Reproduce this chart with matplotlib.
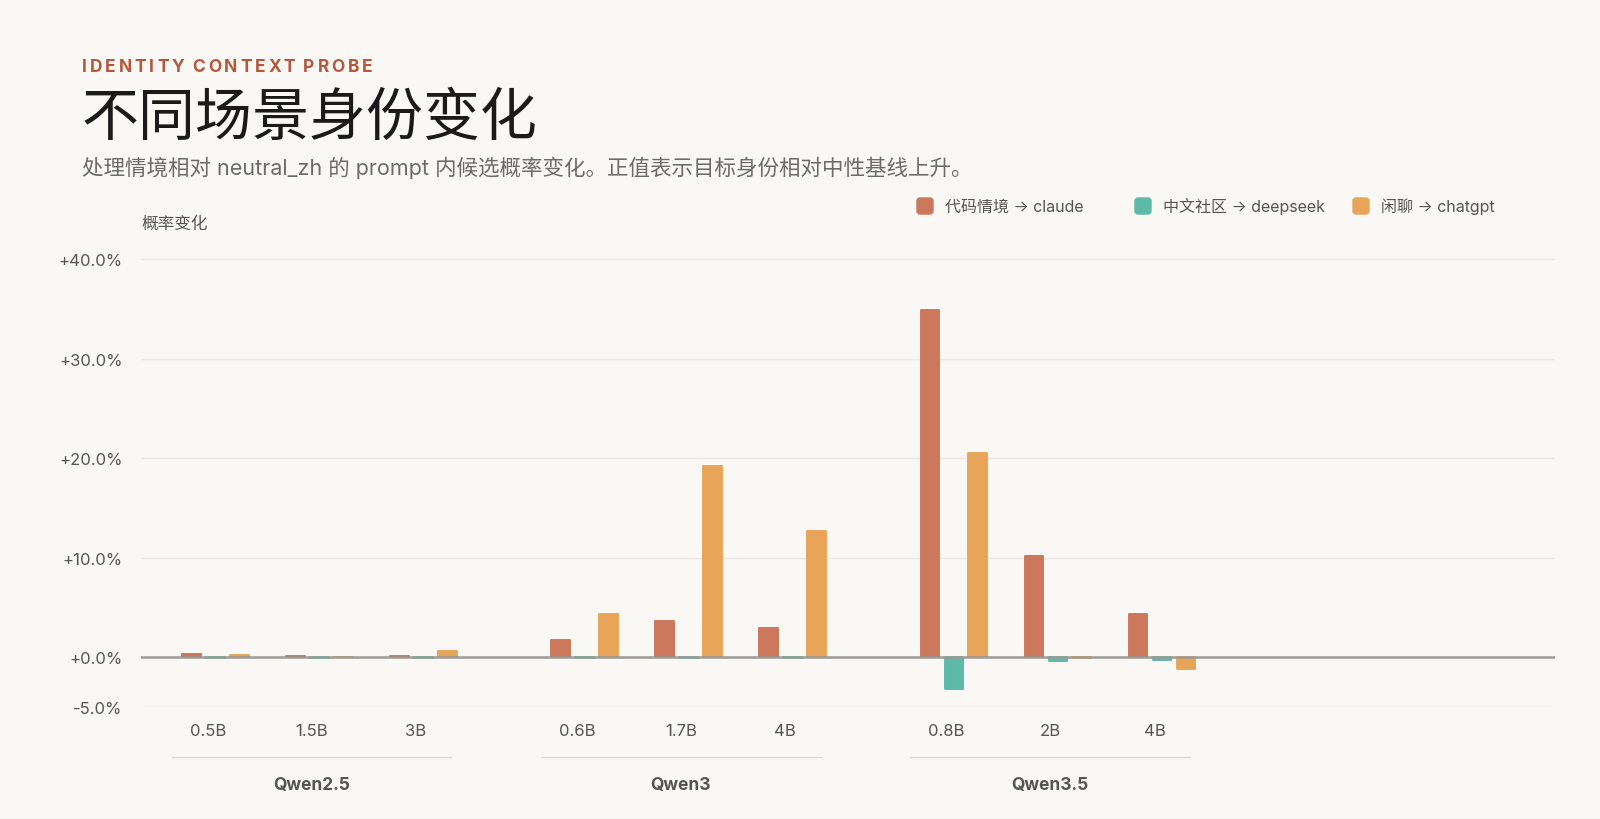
import matplotlib
matplotlib.use("Agg")
import matplotlib.pyplot as plt
from matplotlib.patches import FancyBboxPatch
from matplotlib.transforms import IdentityTransform

# data (percent change vs neutral_zh)
groups = ["Qwen2.5", "Qwen3", "Qwen3.5"]
sizes = [["0.5B", "1.5B", "3B"], ["0.6B", "1.7B", "4B"], ["0.8B", "2B", "4B"]]
series = ["代码情境 → claude", "中文社区 → deepseek", "闲聊 → chatgpt"]
claude = [0.33, 0.08, 0.12, 1.7, 3.6, 2.9, 34.9, 10.2, 4.3]
deepseek = [-0.05, -0.05, -0.05, -0.08, -0.05, -0.05, -3.2, -0.37, -0.27]
chatgpt = [0.23, 0.05, 0.6, 4.3, 19.2, 12.7, 20.5, -0.08, -1.17]
yticks = [-5, 0, 10, 20, 30, 40]

colors = ["#CC785C", "#5DBAA8", "#E8A55A"]
bg = "#FAF8F4"
W, H = 1600, 820

plt.rcParams["font.family"] = ["Inter", "Noto Sans CJK SC", "DejaVu Sans"]

fig = plt.figure(figsize=(16, 8.2), dpi=100, facecolor=bg)
ax = fig.add_axes([0.088, 0.1366, 0.884, 0.5585], facecolor=bg)

group_gap = 3.55
xs = [g * group_gap + i for g in range(len(groups)) for i in range(3)]
offsets = [-0.23, 0.0, 0.23]

for vals, off, c in zip([claude, deepseek, chatgpt], offsets, colors):
    ax.bar([x + off for x in xs], vals, width=0.18, color=c, edgecolor=c,
           linewidth=1.4, joinstyle="round", zorder=3)

ax.set_xlim(-0.716, 12.88)
ax.set_ylim(-5, 41)
for s in ax.spines.values():
    s.set_visible(False)
ax.set_xticks([])
ax.set_yticks(yticks)
ax.set_yticklabels([f"{v:+.1f}%" for v in yticks], fontsize=12, color="#555555")
ax.tick_params(axis="y", length=0, pad=13)
for v in yticks:
    if v == 0:
        ax.axhline(0, color="#9C9A95", lw=1.8, zorder=4)
    else:
        ax.axhline(v, color="#EFE8E2", lw=1.0, zorder=1)

tr = ax.get_xaxis_transform()
for g, grp in enumerate(groups):
    for i, lab in enumerate(sizes[g]):
        ax.text(g * group_gap + i - 0.07, -0.052, lab, transform=tr, ha="center",
                va="center", fontsize=12, color="#555555")
    gc = g * group_gap + 1
    ax.plot([gc - 1.42, gc + 1.27], [-0.109, -0.109], transform=tr, color="#DDDAD4",
            lw=1.0, clip_on=False)
    ax.text(gc - 0.075, -0.17, grp, transform=tr, ha="center", va="center",
            fontsize=12.5, fontweight="bold", color="#555555")

# header: letter-spaced kicker
renderer = fig.canvas.get_renderer()
x = 82
for ch in "IDENTITY CONTEXT PROBE":
    if ch == " ":
        x += 5
        continue
    t = fig.text(x / W, 1 - 67 / H, ch, fontsize=12.5, fontweight="bold",
                 color="#B5573B", va="center")
    x += t.get_window_extent(renderer=renderer).width + 2.9

fig.text(0.051, 1 - 119 / H, "不同场景身份变化", fontsize=41, color="#1A1A1A",
         va="center", family="Noto Sans CJK SC")
fig.text(0.051, 1 - 168 / H,
         "处理情境相对 neutral_zh 的 prompt 内候选概率变化。正值表示目标身份相对中性基线上升。",
         fontsize=15.5, color="#6B6B6B", va="center")
fig.text(141 / W, 1 - 224 / H, "概率变化", fontsize=12, color="#555555", va="center")

# legend
leg_x = [925, 1143, 1361]
for lx, lab, c in zip(leg_x, series, colors):
    cy = H - 207
    fig.patches.append(FancyBboxPatch((lx - 8, cy - 8), 16, 16,
                                      boxstyle="round,pad=0,rounding_size=3",
                                      transform=IdentityTransform(), color=c))
    fig.text((lx + 20) / W, cy / H, lab, fontsize=11.5, color="#555555", va="center")

fig.savefig("out.png", dpi=100, facecolor=bg)
